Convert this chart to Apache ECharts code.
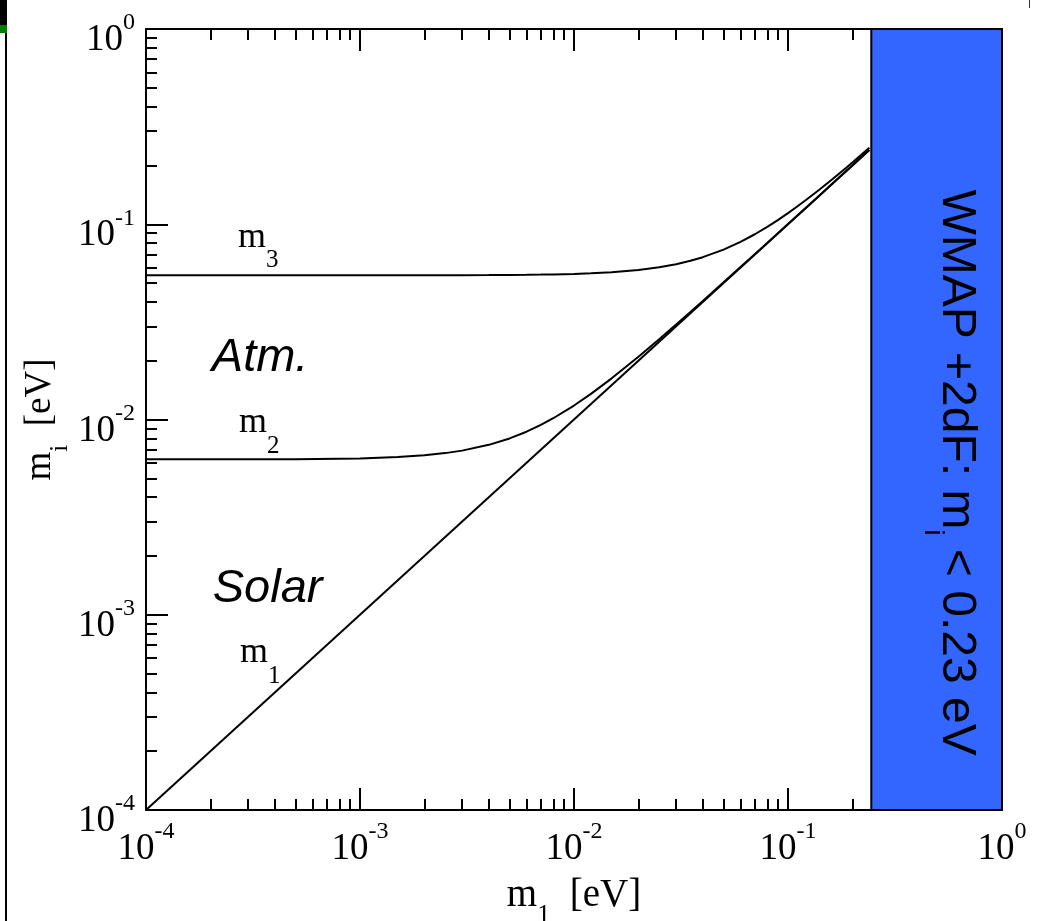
<!DOCTYPE html>
<html><head><meta charset="utf-8">
<script src="https://cdn.jsdelivr.net/npm/echarts@6/dist/echarts.min.js"></script>
<style>html,body{margin:0;padding:0;background:#fff;overflow:hidden}#c{width:1047px;height:921px}</style>
</head><body><div id="c"></div>
<script>
// ---- data ----
const lightestMass = [1e-4, 5e-4, 1e-3, 1.5e-3, 2e-3, 2.5e-3, 3e-3, 4e-3, 5e-3, 6e-3, 7e-3, 8e-3, 1e-2, 1.2e-2, 1.5e-2, 2e-2, 2.5e-2, 3e-2, 3.5e-2, 4e-2, 5e-2, 6e-2, 7e-2, 8e-2, 9e-2, 0.1, 0.11, 0.12, 0.14, 0.16, 0.18, 0.2, 0.22, 0.24];
const m2Values = [0.00625, 0.006265, 0.00632, 0.006423, 0.006557, 0.006727, 0.006928, 0.007416, 0.008, 0.00866, 0.00938, 0.01015, 0.01179, 0.01353, 0.01625, 0.02095, 0.02577, 0.03064, 0.03555, 0.04048, 0.05039, 0.06032, 0.07028, 0.08024, 0.09022, 0.1002, 0.1102, 0.1202, 0.1401, 0.1601, 0.1801, 0.2001, 0.2201, 0.2401];
const m3Values = [0.05477, 0.05477, 0.05478, 0.05479, 0.05481, 0.05483, 0.05485, 0.05492, 0.05500, 0.05510, 0.05522, 0.05535, 0.05568, 0.05607, 0.05679, 0.05831, 0.06021, 0.06245, 0.06500, 0.06782, 0.07416, 0.08124, 0.08888, 0.09695, 0.10536, 0.11402, 0.12288, 0.13191, 0.15033, 0.16912, 0.18815, 0.20736, 0.22672, 0.24617];
const m1Mass = [1e-4, 0.24];
const m1Values = [1e-4, 0.24];
const wmapBound = [0.245, 1];            // excluded region in m1
const majorTicks = [1e-4, 1e-3, 1e-2, 1e-1, 1];
const minorMultipliers = [2, 3, 4, 5, 6, 7, 8, 9];
// annotation texts and anchors (data coordinates)
const noteTexts = ['{m|m}{sub|3}', '{m|m}{sub|2}', '{m|m}{sub|1}', '{it|Atm.}', '{it|Solar}'];
const noteAnchors = [[2.69e-4, 0.0771], [2.72e-4, 0.00868], [2.75e-4, 5.74e-4], [2.03e-4, 0.0206], [2.05e-4, 1.36e-3]];
const wmapText = '{t|WMAP +2dF: m}{ts|i}{t| < 0.23 eV}';
const wmapAnchor = [0.571, 0.00535];

// ---- build ----
const minorTicks = [];
for (let e = -4; e < 0; e++) for (const k of minorMultipliers) minorTicks.push(+(k * Math.pow(10, e)).toPrecision(6));

const SERIF = 'Liberation Serif';
const SANS = 'Liberation Sans';
const tickRich = {
  b: {fontFamily: SERIF, fontSize: 37, lineHeight: 37, color: '#000', verticalAlign: 'bottom'},
  s: {fontFamily: SERIF, fontSize: 24, lineHeight: 48, color: '#000', verticalAlign: 'top'}
};
// subscript: main token drawn at line top, subscript token drawn at bottom of a taller line
function subRich(main, sub, subLine) {
  return {
    m: {fontFamily: SERIF, fontSize: main, lineHeight: main, color: '#000', verticalAlign: 'top'},
    b: {fontFamily: SERIF, fontSize: main, lineHeight: main, color: '#000', verticalAlign: 'top'},
    sub: {fontFamily: SERIF, fontSize: sub, lineHeight: subLine, color: '#000', verticalAlign: 'bottom'},
    it: {fontFamily: SANS, fontStyle: 'italic', fontSize: 47, lineHeight: 47, color: '#000'}
  };
}
function tickFmt(v) {
  return '{b|10}{s|' + Math.round(Math.log10(v)) + '}';
}
function mkAxis(pos, ticks, len, withLabels, withLine) {
  return {
    type: 'log', logBase: 10, min: 1e-4, max: 1, position: pos,
    axisLine: {show: withLine, onZero: false, lineStyle: {color: '#000', width: 2}},
    axisTick: {show: ticks.length > 0, inside: true, length: len, customValues: ticks.length ? ticks : undefined,
               lineStyle: {color: '#000', width: 2}},
    axisLabel: {show: withLabels, customValues: majorTicks, formatter: tickFmt, rich: tickRich, margin: 10},
    splitLine: {show: false}, minorTick: {show: false}, minorSplitLine: {show: false},
    nameMoveOverlap: false
  };
}
const xMain = mkAxis('bottom', majorTicks, 22, true, true);
xMain.name = '{m|m}{sub|1}{b|  [eV]}';
xMain.nameLocation = 'middle';
xMain.nameGap = 66;
xMain.nameTextStyle = {rich: subRich(39, 26, 52)};
const yMain = mkAxis('left', majorTicks, 22, true, true);
yMain.axisLabel.padding = [12, 0, 0, 0];
yMain.axisLabel.margin = 11;
yMain.name = '{m|m}{sub|i}{b|  [eV]}';
yMain.nameLocation = 'middle';
yMain.nameGap = 73;
yMain.nameRotate = 90;
yMain.nameTextStyle = {rich: subRich(37, 25, 51)};

const chart = echarts.init(document.getElementById('c'), null, {renderer: 'canvas'});
const lineStyle = {color: '#000', width: 2};
chart.setOption({
  backgroundColor: '#fff',
  animation: false,
  grid: {left: 146, right: 45, top: 29, bottom: 111, containLabel: false, outerBoundsMode: 'none'},
  xAxis: [
    xMain,
    mkAxis('bottom', minorTicks, 11, false, false),
    mkAxis('top', majorTicks, 22, false, true),
    mkAxis('top', minorTicks, 11, false, false)
  ],
  yAxis: [
    yMain,
    mkAxis('left', minorTicks, 11, false, false),
    mkAxis('right', [], 0, false, true)
  ],
  series: [
    {type: 'line', name: 'm1', symbol: 'none', lineStyle, z: 3,
     data: m1Mass.map((x, i) => [x, m1Values[i]]),
     markArea: {silent: true, itemStyle: {color: '#3366ff', borderColor: '#000', borderWidth: 2, opacity: 1},
       data: [[{xAxis: wmapBound[0], yAxis: 1e-4}, {xAxis: wmapBound[1], yAxis: 1}]]}},
    {type: 'line', name: 'm2', symbol: 'none', lineStyle, z: 3,
     data: lightestMass.map((x, i) => [x, m2Values[i]])},
    {type: 'line', name: 'm3', symbol: 'none', lineStyle, z: 3,
     data: lightestMass.map((x, i) => [x, m3Values[i]])},
    {type: 'scatter', name: 'notes', symbolSize: 0, silent: true, z: 5, itemStyle: {opacity: 1},
     data: noteAnchors.map((p, i) => ({value: p, label: {formatter: noteTexts[i]}})),
     label: {show: true, position: 'inside', align: 'left', verticalAlign: 'middle', color: '#000', rich: subRich(36, 25, 54)}},
    {type: 'scatter', name: 'wmap', symbolSize: 0, silent: true, z: 6, itemStyle: {opacity: 1},
     data: [{value: wmapAnchor}],
     label: {show: true, position: 'inside', align: 'center', verticalAlign: 'middle', rotate: -90, color: '#000',
       formatter: wmapText,
       rich: {t: {fontFamily: SANS, fontSize: 48, lineHeight: 48, color: '#000', verticalAlign: 'top'},
              ts: {fontFamily: SANS, fontSize: 27, lineHeight: 61, color: '#000', verticalAlign: 'bottom'}}}}
  ],
  graphic: [
    {type: 'rect', left: 0, top: 0, shape: {width: 7, height: 25}, style: {fill: '#000'}},
    {type: 'rect', left: 0, top: 25, shape: {width: 7, height: 8}, style: {fill: '#008000'}},
    {type: 'rect', left: 5, top: 33, shape: {width: 2, height: 888}, style: {fill: '#000'}},
    {type: 'rect', left: 1029, top: 0, shape: {width: 1, height: 8}, style: {fill: '#333'}}
  ]
});
</script></body></html>
